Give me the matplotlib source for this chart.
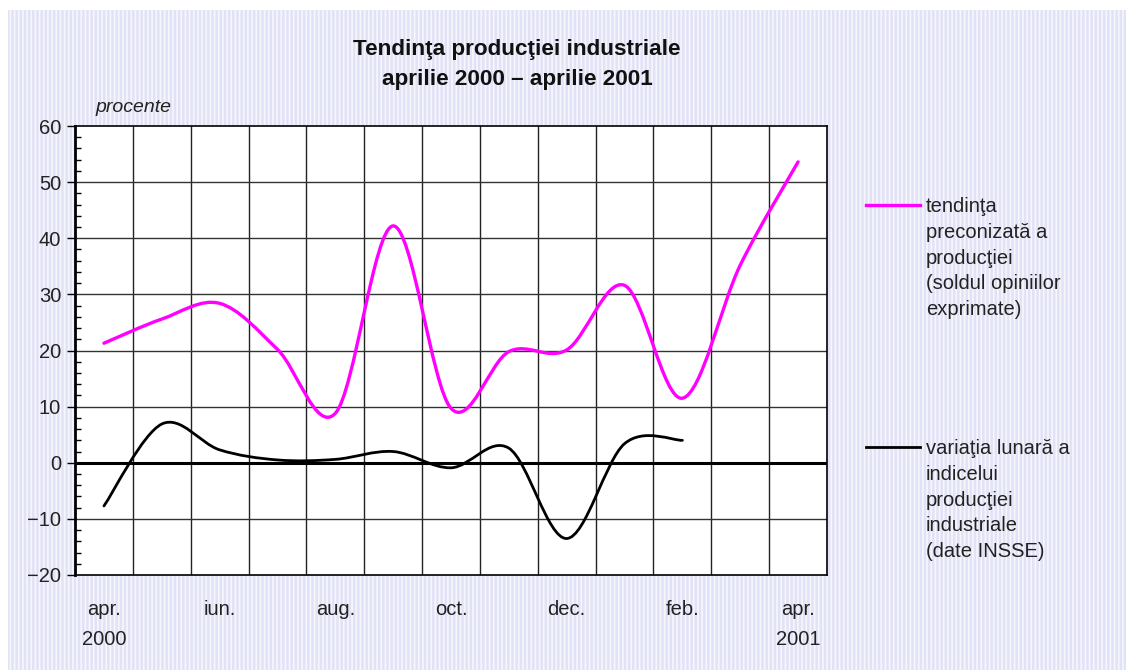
import matplotlib
matplotlib.use('Agg')
import matplotlib.pyplot as plt
from matplotlib.path import Path
from matplotlib.patches import PathPatch, Rectangle
from matplotlib.ticker import MultipleLocator

plt.rcParams['font.family'] = ['Liberation Sans', 'DejaVu Sans']
plt.rcParams['hatch.linewidth'] = 1.2

# date: aprilie 2000 - aprilie 2001 (lunar)
luni = ['apr.', 'mai', 'iun.', 'iul.', 'aug.', 'sep.', 'oct.', 'nov.', 'dec.', 'ian.', 'feb.', 'mar.', 'apr.']
etichete_x = ['apr.\n2000', 'iun.', 'aug.', 'oct.', 'dec.', 'feb.', 'apr.\n2001']
tendinta = [21.3, 25.6, 28.4, 20.2, 8.8, 42.2, 9.7, 19.8, 20.1, 31.6, 11.5, 35.2, 53.6]
variatia = [-7.7, 6.9, 2.3, 0.5, 0.6, 2.0, -0.9, 2.6, -13.5, 3.4, 4.0]


def curba_netezita(xs, ys):
    # curba Bezier tip Excel (Catmull-Rom)
    pts = list(zip(xs, ys))
    verts = [pts[0]]
    codes = [Path.MOVETO]
    n = len(pts)
    for i in range(n - 1):
        p0 = pts[i - 1] if i > 0 else pts[i]
        p1 = pts[i]
        p2 = pts[i + 1]
        p3 = pts[i + 2] if i + 2 < n else pts[i + 1]
        c1 = (p1[0] + (p2[0] - p0[0]) / 6, p1[1] + (p2[1] - p0[1]) / 6)
        c2 = (p2[0] - (p3[0] - p1[0]) / 6, p2[1] - (p3[1] - p1[1]) / 6)
        verts += [c1, c2, p2]
        codes += [Path.CURVE4] * 3
    return Path(verts, codes)


fig = plt.figure(figsize=(11.26, 6.70), dpi=100)
fig.patch.set_facecolor('white')
fundal = Rectangle((8 / 1126, 0), 1 - 8 / 1126, 1 - 10 / 670, transform=fig.transFigure,
                   facecolor='#e2e2f7', edgecolor='#f6f6fd', hatch='||||', linewidth=0, zorder=-10)
fig.patches.append(fundal)

ax = fig.add_axes([75 / 1126, 1 - 575 / 670, (827 - 75) / 1126, (575 - 126) / 670])
ax.set_facecolor('white')

ax.set_xlim(-0.5, len(luni) - 0.5)
ax.set_ylim(-20, 60)

# grila
for k in range(1, len(luni)):
    ax.axvline(k - 0.5, color='#222222', linewidth=1, zorder=1)
for v in range(-10, 60, 10):
    ax.axhline(v, color='#333333', linewidth=1, zorder=1)
ax.axhline(0, color='black', linewidth=2.2, zorder=2)

ax.add_patch(PathPatch(curba_netezita(range(len(tendinta)), tendinta), fill=False,
                       edgecolor='#ff00ff', linewidth=2.4, zorder=3, capstyle='round'))
ax.add_patch(PathPatch(curba_netezita(range(len(variatia)), variatia), fill=False,
                       edgecolor='black', linewidth=2.0, zorder=3, capstyle='round'))

ax.yaxis.set_minor_locator(MultipleLocator(2))
ax.set_yticks(range(-20, 61, 10))
ax.set_yticklabels([str(v).replace('-', '\u2212') for v in range(-20, 61, 10)])
ax.tick_params(axis='y', which='major', direction='out', length=6, width=1,
               labelsize=14.5, labelcolor='#222222', pad=4)
ax.tick_params(axis='y', which='minor', direction='in', length=4, width=1)

ax.set_xticks(range(0, len(luni), 2))
ax.set_xticklabels(etichete_x, fontsize=14.5, color='#222222', linespacing=1.75, va='top')
ax.tick_params(axis='x', length=0, pad=18)

for s in ax.spines.values():
    s.set_color('black')
    s.set_linewidth(1.2)
ax.spines['left'].set_linewidth(2)

fig.text(517 / 1126, 1 - 50 / 670, 'Tendinţa producţiei industriale', ha='center', va='center',
         fontsize=16.2, fontweight='bold', color='#111111')
fig.text(517 / 1126, 1 - 80 / 670, 'aprilie 2000 \u2013 aprilie 2001', ha='center', va='center',
         fontsize=16.2, fontweight='bold', color='#111111')
fig.text(95 / 1126, 1 - 108 / 670, 'procente', ha='left', va='center', fontsize=14,
         style='italic', color='#222222')

# legenda
legenda = [
    ('#ff00ff', 2.4, 205, 'tendinţa\npreconizată a\nproducţiei\n(soldul opiniilor\nexprimate)'),
    ('black', 2.0, 447, 'variaţia lunară a\nindicelui\nproducţiei\nindustriale\n(date INSSE)'),
]
for culoare, lw, y, text in legenda:
    yf = 1 - y / 670
    fig.add_artist(plt.Line2D([866 / 1126, 920 / 1126], [yf, yf], color=culoare, linewidth=lw,
                              transform=fig.transFigure))
    fig.text(926 / 1126, yf + 8 / 670, text, ha='left', va='top', fontsize=14.5,
             color='#222222', linespacing=1.45)

fig.savefig('out.png', dpi=100)
